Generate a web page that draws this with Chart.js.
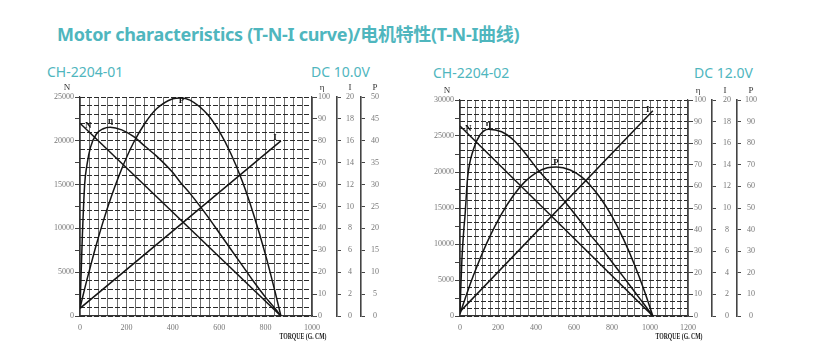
<!DOCTYPE html>
<html>
<head>
<meta charset="utf-8">
<script src="https://cdn.jsdelivr.net/npm/chart.js@4.4.1/dist/chart.umd.min.js"></script>
<style>
  html, body { margin: 0; padding: 0; background: #fff; }
  body { width: 822px; height: 364px; position: relative; overflow: hidden; font-family: "Noto Sans", "Noto Sans CJK SC", sans-serif; }
  .teal { position: absolute; color: #4fb6be; line-height: 1; white-space: nowrap; }
  .title { left: 57px; top: 25px; font-size: 18px; font-weight: bold; letter-spacing: -0.3px; }
  .sub { font-size: 14px; }
  .right { text-align: right; width: 120px; }
  canvas { position: absolute; }
</style>
</head>
<body>
<div class="teal title">Motor characteristics (T-N-I curve)/电机特性(T-N-I曲线)</div>
<div class="teal sub" style="left:47px; top:65px;">CH-2204-01</div>
<div class="teal sub right" style="left:250px; top:65px;">DC 10.0V</div>
<div class="teal sub" style="left:433px; top:66px;">CH-2204-02</div>
<div class="teal sub right" style="left:633px; top:66px;">DC 12.0V</div>

<canvas id="chartA" width="375" height="265" style="left:20px; top:80px;"></canvas>
<canvas id="chartB" width="380" height="265" style="left:400px; top:80px;"></canvas>

<script>
// ---- CH-2204-01, DC 10.0V ----
const TORQUE_A  = [0, 5, 10, 20, 30, 45, 70, 100, 130, 180, 230, 280, 330, 400, 433, 474, 550, 600, 650, 700, 750, 800, 840, 866];
const EFF_A     = [3.5, 20, 36, 60, 69, 77, 83, 85.5, 86.2, 85, 82, 77.5, 73, 65.5, 61, 56, 45.5, 38, 30.5, 23, 15.5, 8.5, 3.5, 0];
const POWER_A   = [1.8, 2.9, 4.0, 6.2, 8.3, 11.3, 16.2, 21.6, 26.5, 33.6, 39.5, 44.0, 47.3, 49.6, 49.8, 49.3, 46.0, 42.2, 37.1, 30.7, 22.9, 13.9, 5.7, 0];
const LINE_T_A  = [0, 866];
const SPEED_A   = [22000, 0];
const CURRENT_A = [0.7, 16.0];

// ---- CH-2204-02, DC 12.0V ----
const TORQUE_B  = [0, 5, 10, 20, 26, 40, 70, 105, 150, 219, 281, 342, 400, 460, 508, 580, 640, 684, 740, 800, 860, 920, 970, 1015];
const EFF_B     = [2, 15, 26, 40, 46, 64, 77, 83.8, 86.5, 85.3, 81.5, 75.5, 68.8, 62.7, 57.7, 49.9, 43.2, 37.8, 31.9, 25, 18.1, 11.1, 5.3, 0];
const POWER_B   = [1.0, 2.3, 3.7, 6.3, 7.8, 11.4, 18.6, 26.4, 35.5, 47.3, 55.8, 62.2, 66.3, 68.6, 69.0, 67.6, 64.4, 60.7, 54.5, 46.1, 35.7, 23.4, 11.7, 0];
const LINE_T_B  = [0, 1015];
const SPEED_B   = [26400, 0];
const CURRENT_B = [0.4, 19.0];

// axis ranges
const X_MAX   = { A: 1000, B: 1200 };
const N_MAX   = { A: 25000, B: 30000 };
const P_MAX   = { A: 50, B: 100 };

const pts = (xs, ys) => xs.map((x, i) => ({ x: x, y: ys[i] }));

const TICK_FONT = { family: '"Liberation Serif", "DejaVu Serif", serif', size: 8 };
const TICK_COLOR = '#777';
const AXIS_COLOR = '#333';

// text that is not an axis tick: headers, curve names, torque caption
const notes = {
  id: 'notes',
  afterDraw(chart, args, opts) {
    const { ctx, scales, chartArea } = chart;
    ctx.save();
    ctx.textAlign = 'center';
    ctx.textBaseline = 'middle';
    ctx.fillStyle = '#333';
    ctx.font = '9px "Liberation Serif", serif';
    const hy = chartArea.top - 9;
    ctx.fillText('N', scales.n.right - 13, hy);
    ctx.fillText('η', scales.eff.left + 10, hy);
    ctx.fillText('I', scales.cur.left + 13, hy);
    ctx.fillText('P', scales.pow.left + 14, hy);

    ctx.fillStyle = '#111';
    ctx.font = 'bold 9px "Liberation Serif", serif';
    opts.marks.forEach(m => {
      ctx.fillText(m[0], scales.x.getPixelForValue(m[1]), scales[m[3]].getPixelForValue(m[2]));
    });

    ctx.fillStyle = '#222';
    ctx.font = 'bold 9px "Liberation Serif", serif';
    ctx.fillText('TORQUE (G. CM)', chartArea.right - 9, chartArea.bottom + 21, 47);
    ctx.restore();
  }
};

function curve(data, axis) {
  return {
    data: data,
    yAxisID: axis,
    borderColor: '#151515',
    borderWidth: 1.5,
    pointRadius: 0,
    cubicInterpolationMode: 'monotone',
    fill: false
  };
}

function sideAxis(max, step, width, weight, tl, pad, center) {
  return {
    type: 'linear',
    position: 'right',
    weight: weight,
    min: 0, max: max,
    afterFit: s => { s.width = width; },
    ticks: { stepSize: step, font: TICK_FONT, color: TICK_COLOR, padding: pad, crossAlign: center ? 'center' : 'near', maxTicksLimit: 100 },
    grid: { drawOnChartArea: false, tickLength: tl, tickColor: '#444', tickWidth: 1 },
    border: { color: '#444', width: center ? 1.6 : 1.2 }
  };
}

function makeChart(id, k, sets, widths, padTop, iPad, pPad, marks) {
  new Chart(document.getElementById(id), {
    type: 'line',
    data: { datasets: sets },
    plugins: [notes],
    options: {
      responsive: false,
      animation: false,
      events: [],
      layout: { padding: { top: padTop, left: 0, right: 0, bottom: 0 } },
      plugins: { legend: { display: false }, tooltip: { enabled: false }, notes: { marks: marks } },
      scales: {
        x: {
          type: 'linear', min: 0, max: X_MAX[k],
          afterFit: s => { s.height = 29; },
          ticks: {
            stepSize: 40, autoSkip: false, maxRotation: 0, maxTicksLimit: 100,
            font: TICK_FONT, color: TICK_COLOR, padding: 7,
            callback: v => (v % 200 === 0 ? v : '')
          },
          grid: { color: '#6f6f6f', lineWidth: 1, drawTicks: false },
          border: { color: AXIS_COLOR, width: 1.2 }
        },
        rows: {
          type: 'linear', position: 'left', weight: 5,
          min: 0, max: N_MAX[k],
          afterFit: s => { s.width = 0; },
          ticks: { display: false, stepSize: 1000, maxTicksLimit: 100 },
          grid: { color: '#2a2a2a', lineWidth: 1, drawTicks: false },
          border: { display: false, dash: [5, 2] }
        },
        n: {
          type: 'linear', position: 'left', weight: 0,
          min: 0, max: N_MAX[k],
          afterFit: s => { s.width = 60; },
          ticks: {
            stepSize: 2500, font: TICK_FONT, color: TICK_COLOR, padding: 1, maxTicksLimit: 100,
            callback: v => (v % 5000 === 0 ? v : '')
          },
          grid: { drawOnChartArea: false, tickLength: 5, tickColor: '#444' },
          border: { color: AXIS_COLOR, width: 1.2 }
        },
        eff: sideAxis(100, 10, widths[0], 0, 5, 1, false),
        cur: sideAxis(20, 2, widths[1], 1, 4, iPad, true),
        pow: sideAxis(P_MAX[k], P_MAX[k] / 10, widths[2], 2, 4, pPad, true)
      }
    }
  });
}

makeChart('chartA', 'A', [
  curve(pts(LINE_T_A, SPEED_A), 'n'),
  curve(pts(LINE_T_A, CURRENT_A), 'cur'),
  curve(pts(TORQUE_A, EFF_A), 'eff'),
  curve(pts(TORQUE_A, POWER_A), 'pow')
], [25, 24, 34], 17, 5, 6, [
  ['N', 36, 21700, 'n'], ['η', 132, 89, 'eff'], ['P', 438, 49.2, 'pow'], ['I', 840, 16.3, 'cur']
]);

makeChart('chartB', 'B', [
  curve(pts(LINE_T_B, SPEED_B), 'n'),
  curve(pts(LINE_T_B, CURRENT_B), 'cur'),
  curve(pts(TORQUE_B, EFF_B), 'eff'),
  curve(pts(TORQUE_B, POWER_B), 'pow')
], [24, 25, 43], 20, 7, 4, [
  ['N', 44, 26070, 'n'], ['η', 149, 89.2, 'eff'], ['P', 505, 71, 'pow'], ['I', 988, 19.1, 'cur']
]);
</script>
</body>
</html>
